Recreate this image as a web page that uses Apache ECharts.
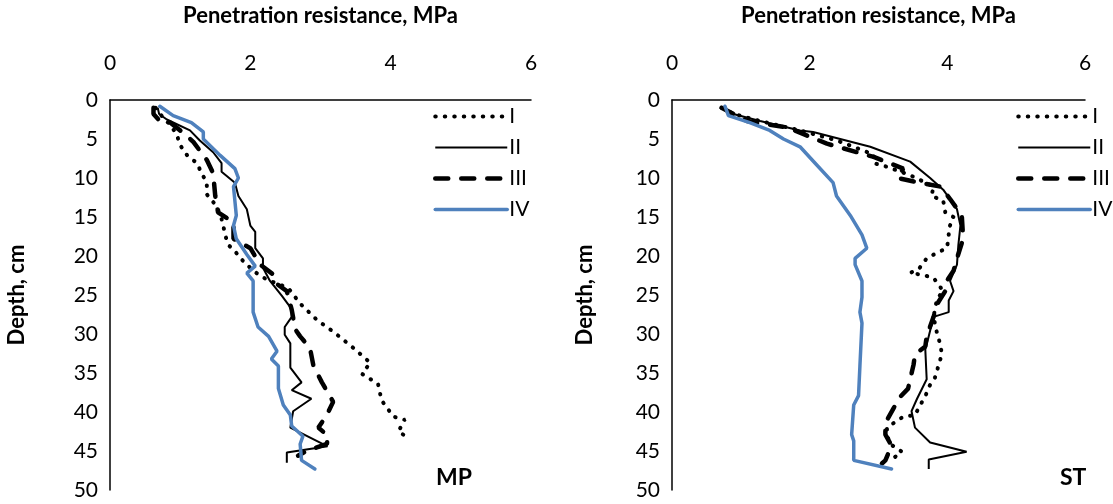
<!DOCTYPE html>
<html>
<head>
<meta charset="utf-8">
<script src="https://cdn.jsdelivr.net/npm/echarts@6/dist/echarts.min.js"></script>
<style>
html,body{margin:0;padding:0;background:#fff;}
#main{width:1113px;height:504px;}
</style>
</head>
<body>
<div id="main"></div>
<script>
// depth profiles: [resistance MPa, depth cm]
var seriesNames = ['I', 'II', 'III', 'IV'];
var xTicks = [0, 2, 4, 6];
var yTicks = [0, 5, 10, 15, 20, 25, 30, 35, 40, 45, 50];

// MP panel
var mpI = [[0.65,1],[0.75,2.2],[0.86,3.2],[0.95,4.4],[1.00,5.8],[1.10,7.1],[1.24,8.1],[1.30,9.3],[1.38,10.6],[1.38,12.1],[1.50,13.4],[1.57,14.6],[1.61,15.9],[1.64,17.3],[1.69,18.6],[1.81,19.7],[1.92,20.9],[2.09,22.2],[2.23,23.0],[2.54,24.1],[2.71,26.1],[2.95,28.2],[3.21,29.9],[3.47,31.8],[3.71,33.7],[3.59,35.1],[3.82,36.4],[3.87,38.5],[4.04,40.6],[4.20,41.0],[4.11,42.5],[4.25,43.3]];
var mpII = [[0.68,1.0],[0.70,1.8],[0.81,2.5],[1.14,3.9],[1.28,5.2],[1.47,6.7],[1.59,8.1],[1.59,9.2],[1.78,10.6],[1.83,12.3],[1.95,14.0],[2.00,16.1],[2.07,16.9],[2.07,19.0],[2.18,20.3],[2.18,21.5],[2.28,23.2],[2.45,25.1],[2.59,26.8],[2.59,27.8],[2.49,29.1],[2.49,30.1],[2.57,31.2],[2.57,34.3],[2.73,36.2],[2.59,37.2],[2.87,38.3],[2.61,39.9],[2.57,42.0],[3.10,44.4],[2.52,45.2],[2.52,46.5]];
var mpIII = [[0.62,1.0],[0.62,1.8],[0.69,2.5],[0.83,2.7],[1.07,4.4],[1.19,5.4],[1.38,7.7],[1.47,9.4],[1.50,12.3],[1.54,14.4],[1.76,15.7],[1.76,17.8],[2.00,19.0],[2.14,21.1],[2.33,22.4],[2.38,23.6],[2.52,24.5],[2.59,26.9],[2.64,29.4],[2.71,30.3],[2.85,31.8],[2.90,34.1],[3.02,36.2],[3.18,38.7],[3.09,40.4],[2.97,42.0],[3.11,43.1],[3.09,44.1],[2.80,45.0],[2.68,45.6]];
var mpIV = [[0.71,0.8],[0.90,2.0],[1.16,2.9],[1.33,4.1],[1.33,5.0],[1.57,7.1],[1.78,8.8],[1.83,10.0],[1.76,11.1],[1.80,14.8],[1.76,16.1],[1.80,17.8],[1.95,19.8],[2.07,21.3],[1.95,22.2],[2.04,23.2],[2.04,27.2],[2.11,29.1],[2.26,30.3],[2.38,32.2],[2.30,33.2],[2.40,34.1],[2.40,37.0],[2.47,39.1],[2.57,40.4],[2.59,41.8],[2.75,43.1],[2.71,44.1],[2.73,46.2],[2.92,47.3]];

// ST panel
var stI = [[0.72,1.0],[0.90,1.8],[1.28,2.7],[1.86,3.9],[2.40,5.2],[2.93,7.0],[2.93,8.1],[3.10,8.5],[3.45,9.6],[3.80,11.1],[3.77,12.3],[3.94,12.9],[3.97,14.4],[4.09,15.0],[4.02,16.5],[4.02,17.8],[3.99,19.0],[3.85,19.6],[3.70,20.3],[3.60,21.5],[3.46,22.2],[3.63,22.4],[3.80,22.8],[3.94,24.5],[3.85,25.5],[3.80,27.8],[3.85,29.9],[3.90,31.4],[3.92,32.6],[3.87,34.1],[3.82,35.6],[3.73,36.8],[3.68,38.0],[3.60,39.2],[3.53,40.4],[3.36,40.6],[3.12,42.0],[3.15,44.0],[3.34,45.1],[3.22,45.9],[3.24,46.7]];
var stII = [[0.72,1.0],[0.89,1.8],[1.28,2.7],[1.86,3.9],[2.05,4.1],[2.88,6.0],[3.46,7.9],[3.75,10.0],[3.94,11.5],[4.14,14.0],[4.19,16.1],[4.16,18.6],[4.14,21.1],[4.04,23.2],[4.09,24.5],[4.02,25.7],[4.02,27.2],[3.80,27.8],[3.73,30.3],[3.68,32.0],[3.70,35.8],[3.56,38.3],[3.48,39.9],[3.53,42.0],[3.75,43.9],[4.28,45.1],[3.73,46.1],[3.73,47.3]];
var stIII = [[0.72,1.0],[1.09,2.7],[1.67,3.5],[2.25,5.6],[2.93,7.3],[3.36,8.8],[3.27,10.0],[3.60,10.6],[3.90,11.1],[4.04,12.7],[4.21,14.8],[4.23,17.8],[4.14,20.3],[4.09,21.9],[3.99,23.2],[3.97,24.5],[3.87,25.9],[3.80,27.8],[3.70,30.3],[3.68,31.6],[3.53,32.6],[3.51,33.9],[3.46,35.8],[3.43,37.0],[3.31,38.1],[3.22,39.5],[3.10,41.4],[3.10,42.9],[3.19,44.3],[3.10,46.2],[3.05,46.6]];
var stIV = [[0.77,0.8],[0.82,2.0],[1.13,2.9],[1.42,3.9],[1.62,5.0],[1.86,6.0],[2.10,8.3],[2.34,10.6],[2.39,12.3],[2.59,14.8],[2.76,17.3],[2.83,19.0],[2.66,20.3],[2.66,21.1],[2.76,23.2],[2.76,25.3],[2.73,27.2],[2.76,28.6],[2.73,34.1],[2.71,37.9],[2.64,39.1],[2.61,42.9],[2.64,43.7],[2.64,46.2],[3.19,47.3]];

var font = 'Lato, "Open Sans", sans-serif';
var lineStyles = [
  {color:'#000', width:4, type:[0.5, 9], cap:'round'},
  {color:'#000', width:2, type:'solid'},
  {color:'#000', width:4.5, type:[13, 13], cap:'round'},
  {color:'#4f81bd', width:3.5, type:'solid', cap:'round'}
];

function xAxisFor(idx) {
  return {
    gridIndex: idx, type: 'value', position: 'top',
    min: xTicks[0], max: xTicks[xTicks.length - 1], interval: 2,
    name: 'Penetration resistance, MPa', nameLocation: 'middle', nameGap: 73,
    nameTextStyle: {color:'#000', fontSize:22, fontWeight:'bold', fontFamily:font},
    axisLine: {show:true, lineStyle:{color:'#000', width:1.5}},
    axisTick: {show:false},
    splitLine: {show:false},
    axisLabel: {color:'#000', fontSize:21, fontFamily:font, margin:26}
  };
}
function yAxisFor(idx, gap) {
  return {
    gridIndex: idx, type: 'value', inverse: true,
    min: yTicks[0], max: yTicks[yTicks.length - 1], interval: 5,
    name: 'Depth, cm', nameLocation: 'middle', nameGap: gap,
    nameTextStyle: {color:'#000', fontSize:22, fontWeight:'bold', fontFamily:font},
    axisLine: {show:true, lineStyle:{color:'#000', width:1.5}},
    axisTick: {show:false},
    splitLine: {show:false},
    axisLabel: {color:'#000', fontSize:21, fontFamily:font, margin:12}
  };
}

var panels = [[mpI, mpII, mpIII, mpIV], [stI, stII, stIII, stIV]];
var series = [];
panels.forEach(function (sets, p) {
  sets.forEach(function (d, i) {
    series.push({
      name: seriesNames[i], type: 'line',
      xAxisIndex: p, yAxisIndex: p,
      data: d, showSymbol: false, symbol: 'none',
      smooth: false, animation: false,
      itemStyle: {color: lineStyles[i].color},
      lineStyle: lineStyles[i]
    });
  });
});

function legendAt(left) {
  return {
    left: left, top: 101, orient: 'vertical',
    itemWidth: 72, itemHeight: 16, itemGap: 10,
    itemStyle: {opacity: 0},
    data: seriesNames.map(function (n, i) {
      return {name: n, lineStyle: lineStyles[i], itemStyle: {opacity: 0}};
    }),
    textStyle: {color:'#000', fontSize:21, fontFamily:font, padding:[0,0,0,-3]}
  };
}

var chart = echarts.init(document.getElementById('main'));
chart.setOption({
  animation: false,
  title: [
    {text:'MP', left:431, top:461, textStyle:{fontSize:23, fontWeight:'bold', color:'#000', fontFamily:font}},
    {text:'ST', left:1055, top:461, textStyle:{fontSize:23, fontWeight:'bold', color:'#000', fontFamily:font}}
  ],
  legend: [legendAt(428), legendAt(1011)],
  grid: [
    {left:110, top:93, width:421, height:397},
    {left:672, top:93, width:413, height:397}
  ],
  xAxis: [xAxisFor(0), xAxisFor(1)],
  yAxis: [yAxisFor(0, 82), yAxisFor(1, 76)],
  series: series
});
</script>
</body>
</html>
